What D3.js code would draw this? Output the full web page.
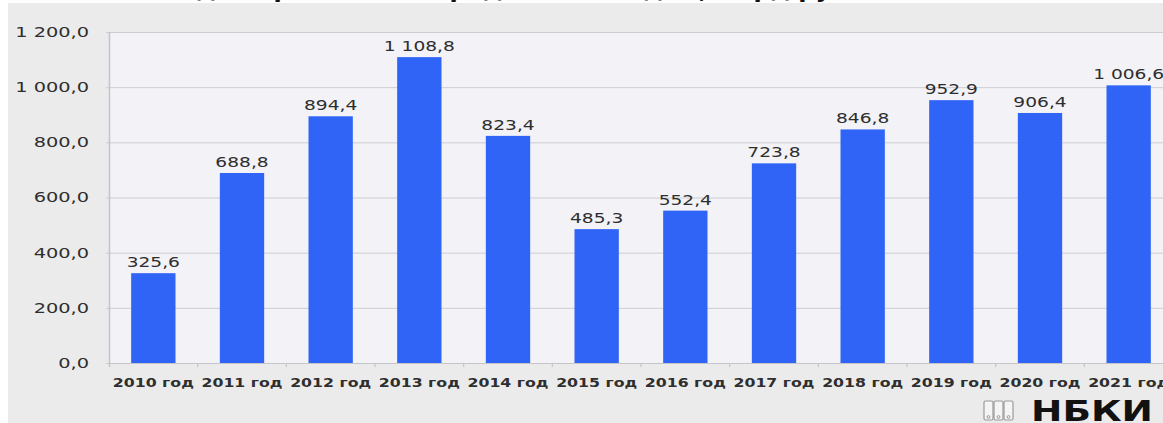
<!DOCTYPE html>
<html>
<head>
<meta charset="utf-8">
<script src="https://cdn.jsdelivr.net/npm/d3@7/dist/d3.min.js"></script>
<style>
  html, body { margin: 0; padding: 0; background: #ffffff; }
  svg { display: block; }
  text { font-family: "DejaVu Sans", Verdana, sans-serif; }
</style>
</head>
<body>
<svg id="chart" width="1163" height="423"></svg>
<script>
// Years and values (млрд руб.)
const years = ["2010 год", "2011 год", "2012 год", "2013 год", "2014 год", "2015 год",
               "2016 год", "2017 год", "2018 год", "2019 год", "2020 год", "2021 год"];
const values = [325.6, 688.8, 894.4, 1108.8, 823.4, 485.3, 552.4, 723.8, 846.8, 952.9, 906.4, 1006.6];
const yTicks = [0, 200, 400, 600, 800, 1000, 1200];
const titleText = "Объем выдачи розничных кредитов по годам, млрд рублей";
const brand = "НБКИ";

const W = 1163, H = 423;
const svg = d3.select("#chart");

const ru = d3.formatLocale({ decimal: ",", thousands: "\u00a0", grouping: [3], currency: ["", " ₽"] });
const fmt = ru.format(",.1f");

// stretch text horizontally around its anchor point (the lettering is a wide geometric face)
function widen(sel, k) {
  sel.each(function () {
    const t = d3.select(this);
    const tx = +t.attr("x") || 0, ty = +t.attr("y") || 0;
    t.attr("x", 0).attr("y", 0).attr("transform", `translate(${tx},${ty}) scale(${k},1)`);
  });
}

// page frame
svg.append("rect").attr("x", 8).attr("y", 3).attr("width", W - 8).attr("height", H - 3)
  .attr("fill", "#ebebeb");

// title, partly above the frame
svg.append("text").attr("x", 60).attr("y", -3)
  .attr("font-size", 24).attr("font-weight", "bold").attr("fill", "#111")
  .text(titleText);

const x = d3.scaleBand().domain(years).range([109, 1173]).paddingInner(0.5).paddingOuter(0.25);
const y = d3.scaleLinear().domain([0, 1200]).range([363, 32]);

// plot background
svg.append("rect").attr("x", 110).attr("y", y(1200)).attr("width", W - 110).attr("height", y(0) - y(1200))
  .attr("fill", "#f2f2f7");

// gridlines and value axis
const yAxis = d3.axisLeft(y).tickValues(yTicks).tickSize(-(W - 110)).tickPadding(21).tickFormat(fmt);
const gy = svg.append("g").attr("transform", "translate(110,0)").call(yAxis);
gy.select(".domain").remove();
gy.selectAll(".tick line").attr("stroke", "#cdcdd2").attr("stroke-width", 1)
  .attr("x1", -4);
gy.selectAll(".tick text").attr("fill", "#2e2e2e").attr("font-size", 14)
  .call(widen, 1.38);

// left axis line
svg.append("line").attr("x1", 109.5).attr("x2", 109.5).attr("y1", y(1200)).attr("y2", y(0) + 4)
  .attr("stroke", "#c4c4c9").attr("stroke-width", 1.5);

// bars
svg.append("g").selectAll("rect").data(values).join("rect")
  .attr("x", (d, i) => x(years[i]))
  .attr("y", d => y(d))
  .attr("width", x.bandwidth())
  .attr("height", d => y(0) - y(d))
  .attr("fill", "#3064f6");

// value labels
svg.append("g").selectAll("text").data(values).join("text")
  .attr("x", (d, i) => x(years[i]) + x.bandwidth() / 2)
  .attr("y", d => y(d) - 6)
  .attr("text-anchor", "middle")
  .attr("font-size", 13.5).attr("fill", "#2e2e2e")
  .text(d => fmt(d))
  .call(widen, 1.38);

// category axis
const xAxis = d3.axisBottom(x).tickSize(0).tickPadding(15);
const gx = svg.append("g").attr("transform", `translate(0,${y(0)})`).call(xAxis);
gx.select(".domain").attr("stroke", "#c4c4c9").attr("stroke-width", 1.2);
gx.selectAll(".tick text").attr("fill", "#2e2e2e").attr("font-size", 12.5)
  .attr("font-weight", "bold")
  .call(widen, 1.26);

// separators between categories
const step = x.step();
svg.append("g").selectAll("line").data(years.slice(1)).join("line")
  .attr("x1", d => x(d) - (step - x.bandwidth()) / 2)
  .attr("x2", d => x(d) - (step - x.bandwidth()) / 2)
  .attr("y1", y(0)).attr("y2", y(0) + 4)
  .attr("stroke", "#c4c4c9").attr("stroke-width", 1.2);

// brand mark
const logo = svg.append("g");
[984, 994, 1004].forEach(px => {
  logo.append("rect").attr("x", px).attr("y", 401).attr("width", 9).attr("height", 19).attr("rx", 1.5)
    .attr("fill", "#f4f4f4").attr("stroke", "#9a9a9a").attr("stroke-width", 1.2);
  logo.append("circle").attr("cx", px + 4.5).attr("cy", 417).attr("r", 1.4)
    .attr("fill", "none").attr("stroke", "#9a9a9a").attr("stroke-width", 1);
});
logo.append("text").attr("x", 1031).attr("y", 421)
  .attr("font-size", 28).attr("font-weight", "bold").attr("fill", "#111")
  .attr("textLength", 122).attr("lengthAdjust", "spacingAndGlyphs")
  .text(brand);
</script>
</body>
</html>
